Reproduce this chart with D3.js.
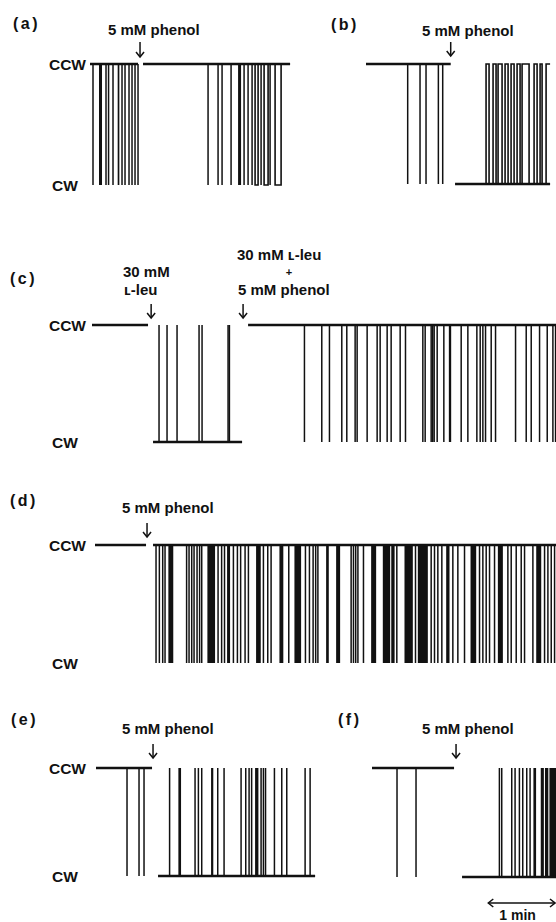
<!DOCTYPE html>
<html><head><meta charset="utf-8">
<script src="https://cdn.jsdelivr.net/npm/d3@7"></script>
<style>html,body{margin:0;padding:0;background:#fff;} svg{display:block;}</style>
</head><body>
<svg id="chart" width="556" height="922"></svg>
<script>
// ---------------- DATA (time in seconds from the start of each trace) ----------------
// state levels
const states = ["CCW", "CW"];
const panelLabels = ["(a)", "(b)", "(c)", "(d)", "(e)", "(f)"];
const phenolText = "5 mM phenol";
const leuText = ["30 mM", "ʟ-leu"];
const leuPhenolText = ["30 mM ʟ-leu", "+", "5 mM phenol"];
const scaleBarText = "1 min";

// panel (a): CCW baseline, brief CW reversals
const aSpan1 = [0, 43.2];
const aSpikes1 = [2.7, 14.4, 16.7, 20.7, 28.8, 31.5, 35.1, 37.8, 40.5, 43.2];
const aBursts1 = [[8.1, 10.8], [24.9, 26.4]];
const aAdd = [45];
const aSpan2 = [47.7, 180];
const aSpikes2 = [106.2, 115.2, 118.8, 126.9, 138.6, 142.2, 145.8, 153.9, 162];
const aBursts2 = [[133.2, 135.9]];
const aPulses2 = [[148.5, 151.2], [156.6, 160.2], [166.5, 171.9]];

// panel (b): CCW then (after phenol) CW baseline with CCW intervals
const bSpan1 = [0, 76.2];
const bSpikes1 = [37.5, 48.6, 54, 65.1, 69];
const bAdd = [76.2];
const bSpan2 = [80.1, 165.6];
const bPulses2 = [[108, 110.7], [114.3, 117], [118.8, 122.4], [125.1, 127.8], [130.5, 133.2],
                  [135.9, 138.6], [140.4, 146.7], [151.2, 153.9], [156.6, 158.4], [162, 165.6]];

// panel (c): CCW, then L-leu (CW), then L-leu + phenol (CCW)
const cSpan1 = [1.8, 52.2];
const cAdd = [55, 137.7];
const cSpan2 = [56.7, 136.8];
const cSpikes2 = [62.1, 69.3, 78.3, 98.1, 100.8, 124.2, 125.4];
const cSpan3 = [142.2, 419.4];
const cSpikes3 = [192.9, 208.5, 215.4, 226.5, 231, 238.5, 240.3, 249.3, 258.3, 261, 267.3, 270.9,
                  279, 283.8, 299.4, 301.5, 306.9, 308.3, 309.6, 312.3, 318.3, 333.9, 339.9,
                  348, 351, 353.4, 355.8, 360.9, 364.8, 382.8, 392.4, 396.9, 404.4, 411.3, 416.4, 418.8];
const cBursts3 = [[322.8, 324.9]];

// panel (d): CCW, then phenol -> frequent CW reversals
const dSpan1 = [4.5, 50.4];
const dAdd = [51.3];
const dSpan2 = [56.7, 419.4];
const dSpikes2 = [59.4, 62.4, 65.4, 67.5, 86.9, 89.1, 91.5, 93.6, 96.3, 98.6, 100.5, 115.2, 118.4,
                  121, 129, 132.6, 135.5, 139.5, 142.5, 156, 159.9, 162.9, 178.8, 193.8, 197.4,
                  200.7, 203, 205, 234.9, 237, 239, 241, 246, 276, 292.8, 306.9, 309.9, 312.9,
                  316.5, 326.4, 330.9, 336.9, 350.4, 353.4, 356.4, 359.4, 363.9, 375.9, 378.9,
                  383.4, 387.9, 390.9, 398.4, 408.9, 411.9, 414.9, 417.9];
const dBursts2 = [[70.5, 74.9], [105.6, 112.5], [123.3, 126], [149.4, 153.6], [170.4, 173.9],
                  [183.9, 189.9], [212.4, 214.8], [221.4, 225], [252.9, 257.4], [263.4, 270],
                  [271, 274], [282.9, 290.4], [294.9, 303.9], [320.4, 323.4], [342.3, 347.4],
                  [366.9, 371.4], [401.4, 405.9]];

// panel (e): CCW, then phenol -> CW baseline with CCW reversals
const eSpan1 = [5.4, 55.8];
const eSpikes1 = [33.3, 44.1, 48.6];
const eAdd = [56.7];
const eSpan2 = [61.2, 202.5];
const eSpikes2 = [71.6, 94.5, 97.5, 100.5, 114.9, 120.6, 135.9, 140.1, 143.1, 145.4, 153.9, 156,
                  157.9, 165.9, 172.5, 177, 193.5, 198];
const eBursts2 = [[79.5, 81.9], [108.9, 110.9], [148.5, 151.5]];

// panel (f)
const fSpan1 = [5.4, 79.2];
const fSpikes1 = [27.9, 45];
const fAdd = [81];
const fSpan2 = [86.4, 171];
const fSpikes2 = [120, 122.1, 131.1, 134.1, 138, 141, 144.6, 147.6];
const fBursts2 = [[150.6, 153], [157.2, 160], [161, 164], [165, 171]];
const scaleBar = [110, 170]; // 60 s, drawn in panel (f) time

// ---------------- LAYOUT ----------------
const minutePx = 66.7;
const font = "'Liberation Sans', Arial, sans-serif";
const layout = {
  a: {xs: 90, ccw: 64, cw: 185, states: true, label: [13, 29], notes: [{t: phenolText, x: 108, y: 35}], arrowY: [42, 57]},
  b: {xs: 366, ccw: 64, cw: 184, states: false, label: [331, 30], notes: [{t: phenolText, x: 422, y: 36}], arrowY: [42, 56]},
  c: {xs: 90, ccw: 325, cw: 442, states: true, label: [10, 284],
      notes: [{t: leuText[0], x: 123, y: 277}, {t: leuText[1], x: 124, y: 295},
              {t: leuPhenolText[0], x: 237, y: 260}, {t: leuPhenolText[1], x: 289, y: 276, small: true, anchor: "middle"},
              {t: leuPhenolText[2], x: 238, y: 295}], arrowY: [304, 318]},
  d: {xs: 90, ccw: 545, cw: 663, states: true, label: [10, 506], notes: [{t: phenolText, x: 122, y: 513}], arrowY: [523, 537]},
  e: {xs: 90, ccw: 768, cw: 876, states: true, label: [11, 725], notes: [{t: phenolText, x: 122, y: 734}], arrowY: [744, 758]},
  f: {xs: 366, ccw: 768, cw: 877, states: false, label: [338, 725], notes: [{t: phenolText, x: 422, y: 734}], arrowY: [744, 758]}
};

const traces = {
  a: [{base: "CCW", span: aSpan1, spikes: aSpikes1, bursts: aBursts1, pulses: []},
      {base: "CCW", span: aSpan2, spikes: aSpikes2, bursts: aBursts2, pulses: aPulses2}],
  b: [{base: "CCW", span: bSpan1, spikes: bSpikes1, bursts: [], pulses: []},
      {base: "CW", span: bSpan2, spikes: [], bursts: [], pulses: bPulses2}],
  c: [{base: "CCW", span: cSpan1, spikes: [], bursts: [], pulses: []},
      {base: "CW", span: cSpan2, spikes: cSpikes2, bursts: [], pulses: []},
      {base: "CCW", span: cSpan3, spikes: cSpikes3, bursts: cBursts3, pulses: []}],
  d: [{base: "CCW", span: dSpan1, spikes: [], bursts: [], pulses: []},
      {base: "CCW", span: dSpan2, spikes: dSpikes2, bursts: dBursts2, pulses: []}],
  e: [{base: "CCW", span: eSpan1, spikes: eSpikes1, bursts: [], pulses: []},
      {base: "CW", span: eSpan2, spikes: eSpikes2, bursts: eBursts2, pulses: []}],
  f: [{base: "CCW", span: fSpan1, spikes: fSpikes1, bursts: [], pulses: []},
      {base: "CW", span: fSpan2, spikes: fSpikes2, bursts: fBursts2, pulses: []}]
};
const additions = {a: aAdd, b: bAdd, c: cAdd, d: dAdd, e: eAdd, f: fAdd};

// ---------------- DRAW ----------------
const svg = d3.select("#chart");
svg.append("rect").attr("width", 556).attr("height", 922).attr("fill", "#fff");
const ink = "#111";

Object.keys(layout).forEach((k, i) => {
  const L = layout[k];
  const x = d3.scaleLinear().domain([0, 60]).range([L.xs, L.xs + minutePx]);
  const y = d3.scaleOrdinal().domain(states).range([L.ccw, L.cw]);
  const g = svg.append("g").attr("class", "panel-" + k);

  // panel label
  g.append("text").attr("x", L.label[0]).attr("y", L.label[1])
    .attr("font-family", font).attr("font-weight", "bold").attr("font-size", 16)
    .attr("letter-spacing", 2.5).attr("fill", ink).text(panelLabels[i]);

  // state labels
  if (L.states) {
    g.append("text").attr("x", 86).attr("y", y("CCW") + 5.5).attr("text-anchor", "end")
      .attr("font-family", font).attr("font-weight", "bold").attr("font-size", 15.5).attr("fill", ink).text("CCW");
    g.append("text").attr("x", 52).attr("y", y("CW") + 5.5)
      .attr("font-family", font).attr("font-weight", "bold").attr("font-size", 15.5).attr("fill", ink).text("CW");
  }

  // annotations
  L.notes.forEach(n => {
    g.append("text").attr("x", n.x).attr("y", n.y).attr("text-anchor", n.anchor || "start")
      .attr("font-family", font).attr("font-weight", "bold").attr("font-size", n.small ? 11 : 15)
      .attr("fill", ink).text(n.t);
  });

  // addition arrows
  additions[k].forEach(t => {
    const ax = x(t);
    g.append("line").attr("x1", ax).attr("x2", ax).attr("y1", L.arrowY[0]).attr("y2", L.arrowY[1])
      .attr("stroke", ink).attr("stroke-width", 1.5);
    g.append("path").attr("d", `M${ax - 4},${L.arrowY[1] - 5}L${ax},${L.arrowY[1]}L${ax + 4},${L.arrowY[1] - 5}`)
      .attr("fill", "none").attr("stroke", ink).attr("stroke-width", 1.5);
  });

  // traces
  traces[k].forEach(tr => {
    const other = tr.base === "CCW" ? "CW" : "CCW";
    // bursts of rapid switching (unresolved by recorder)
    g.selectAll(null).data(tr.bursts).enter().append("rect")
      .attr("x", d => x(d[0])).attr("width", d => Math.max(1, x(d[1]) - x(d[0])))
      .attr("y", Math.min(y("CCW"), y("CW"))).attr("height", Math.abs(y("CW") - y("CCW")))
      .attr("fill", ink);
    // brief reversals
    g.selectAll(null).data(tr.spikes).enter().append("line")
      .attr("x1", d => x(d)).attr("x2", d => x(d))
      .attr("y1", y(tr.base)).attr("y2", y(other))
      .attr("stroke", ink).attr("stroke-width", 1.5);
    // resolved reversal intervals
    g.selectAll(null).data(tr.pulses).enter().append("path")
      .attr("d", d => {
        let p = `M${x(d[0])},${y(tr.base)}V${y(other)}H${x(d[1])}`;
        if (d[1] < tr.span[1]) p += `V${y(tr.base)}`;
        return p;
      })
      .attr("fill", "none").attr("stroke", ink).attr("stroke-width", 1.6);
    // baseline
    g.append("line").attr("x1", x(tr.span[0])).attr("x2", x(tr.span[1]))
      .attr("y1", y(tr.base)).attr("y2", y(tr.base))
      .attr("stroke", ink).attr("stroke-width", 2.6);
  });

  // scale bar in panel (f)
  if (k === "f") {
    const x1 = x(scaleBar[0]), x2 = x(scaleBar[1]), sy = 903;
    g.append("line").attr("x1", x1).attr("x2", x2).attr("y1", sy).attr("y2", sy)
      .attr("stroke", ink).attr("stroke-width", 1.5);
    g.append("path").attr("d", `M${x1 + 5},${sy - 4}L${x1},${sy}L${x1 + 5},${sy + 4}M${x2 - 5},${sy - 4}L${x2},${sy}L${x2 - 5},${sy + 4}`)
      .attr("fill", "none").attr("stroke", ink).attr("stroke-width", 1.5);
    g.append("text").attr("x", (x1 + x2) / 2 - 4).attr("y", 920).attr("text-anchor", "middle")
      .attr("font-family", font).attr("font-weight", "bold").attr("font-size", 14).attr("fill", ink).text(scaleBarText);
  }
});
</script>
</body></html>
